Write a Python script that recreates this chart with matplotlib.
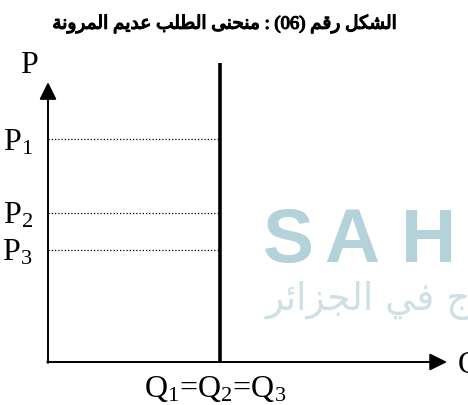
import matplotlib
matplotlib.use("Agg")
import matplotlib.pyplot as plt
import matplotlib.patheffects as pe

# ── Data ──────────────────────────────────────────────────────────────────────
QUANTITY     = 4.3                      # Q1 = Q2 = Q3 (perfectly inelastic)
PRICES       = [7.45, 5.0, 3.75]        # P1, P2, P3
PRICE_LABELS = [r"P$_1$", r"P$_2$", r"P$_3$"]
Q_LABEL      = r"Q$_1$=Q$_2$=Q$_3$"
P_MAX, Q_MAX = 10, 10                   # axis ranges
P_ARROW      = 9.36                     # top of the price axis arrow

# Arabic title, written in presentation forms and visual (left-to-right) order
TITLE = ("\uFE94\uFEE7\uFEED\uFEAE\uFEE4\uFEDF\uFE8D \uFEE2\uFEF3\uFEAA\uFECB "
         "\uFE90\uFEE0\uFEC4\uFEDF\uFE8D \uFEF0\uFEE8\uFEA4\uFEE8\uFEE3 : (06) "
         "\uFEE2\uFED7\uFEAD \uFEDE\uFEDC\uFEB8\uFEDF\uFE8D")
WATERMARK_AR = ("\uFEAE\uFE8B\uFE8D\uFEB0\uFEA0\uFEDF\uFE8D "
                "\uFEF2\uFED3 \uFE9D\uFEAE")

# ── Style ─────────────────────────────────────────────────────────────────────
plt.rcParams["mathtext.fontset"] = "custom"
plt.rcParams["mathtext.rm"] = "Liberation Serif"
plt.rcParams["mathtext.it"] = "Liberation Serif"
SERIF = ["Liberation Serif", "DejaVu Serif"]
FS = 23

W, H = 468, 405
fig = plt.figure(figsize=(W / 100, H / 100), dpi=100)

# watermark behind everything
for ch, x in zip("SAHL", [263, 324, 401, 463]):
    fig.text(x / W, 1 - 262 / H, ch, fontsize=55, fontweight="bold",
             family="Liberation Sans", color="#b3d2da", ha="left",
             va="baseline")
fig.text(265 / W, 1 - 310 / H, WATERMARK_AR, fontsize=27,
         family="DejaVu Sans", color="#cde0e6", ha="left", va="baseline")

# title (DejaVu Sans has the Arabic glyphs only in regular weight -> stroke it)
fig.text(225 / W, 1 - 24 / H, TITLE, fontsize=13.4,
         family=["Liberation Serif", "DejaVu Sans"], ha="center", va="center",
         path_effects=[pe.withStroke(linewidth=0.9, foreground="black")])

# plot area: origin at (48, 362) px
ax = fig.add_axes([48 / W, (H - 362) / H, (447 - 48) / W, (362 - 63) / H])
ax.set_xlim(0, Q_MAX)
ax.set_ylim(0, P_MAX)
ax.axis("off")

arrow = dict(arrowstyle="-|>,head_length=1.05,head_width=0.52",
             mutation_scale=10, lw=1.4, color="black", shrinkA=0, shrinkB=0)
ax.annotate("", xy=(0, P_ARROW), xytext=(0, -0.03), arrowprops=arrow,
            annotation_clip=False)
ax.annotate("", xy=(Q_MAX, 0), xytext=(-0.02, 0), arrowprops=arrow,
            annotation_clip=False)

# perfectly inelastic demand curve
ax.plot([QUANTITY, QUANTITY], [0, P_MAX], color="black", lw=2.6,
        solid_capstyle="butt", clip_on=False)

for p, lab in zip(PRICES, PRICE_LABELS):
    ax.plot([0, QUANTITY], [p, p], color="black", lw=0.9,
            ls=(0, (1, 1.6)), clip_on=False)
    ax.annotate(lab, xy=(0, p), xytext=(-11, -8), textcoords="offset points",
                ha="right", va="baseline", fontsize=FS, family=SERIF,
                annotation_clip=False)

ax.annotate("P", xy=(0, P_MAX), xytext=(-14, -7), textcoords="offset points",
            ha="center", va="baseline", fontsize=FS, family=SERIF,
            annotation_clip=False)
ax.annotate("Q", xy=(Q_MAX, 0), xytext=(8, -8), textcoords="offset points",
            ha="left", va="baseline", fontsize=FS, family=SERIF,
            annotation_clip=False)
ax.annotate(Q_LABEL, xy=(QUANTITY, 0), xytext=(-3, -25),
            textcoords="offset points", ha="center", va="baseline",
            fontsize=FS, family=SERIF, annotation_clip=False)

fig.savefig("out.png", dpi=100)
